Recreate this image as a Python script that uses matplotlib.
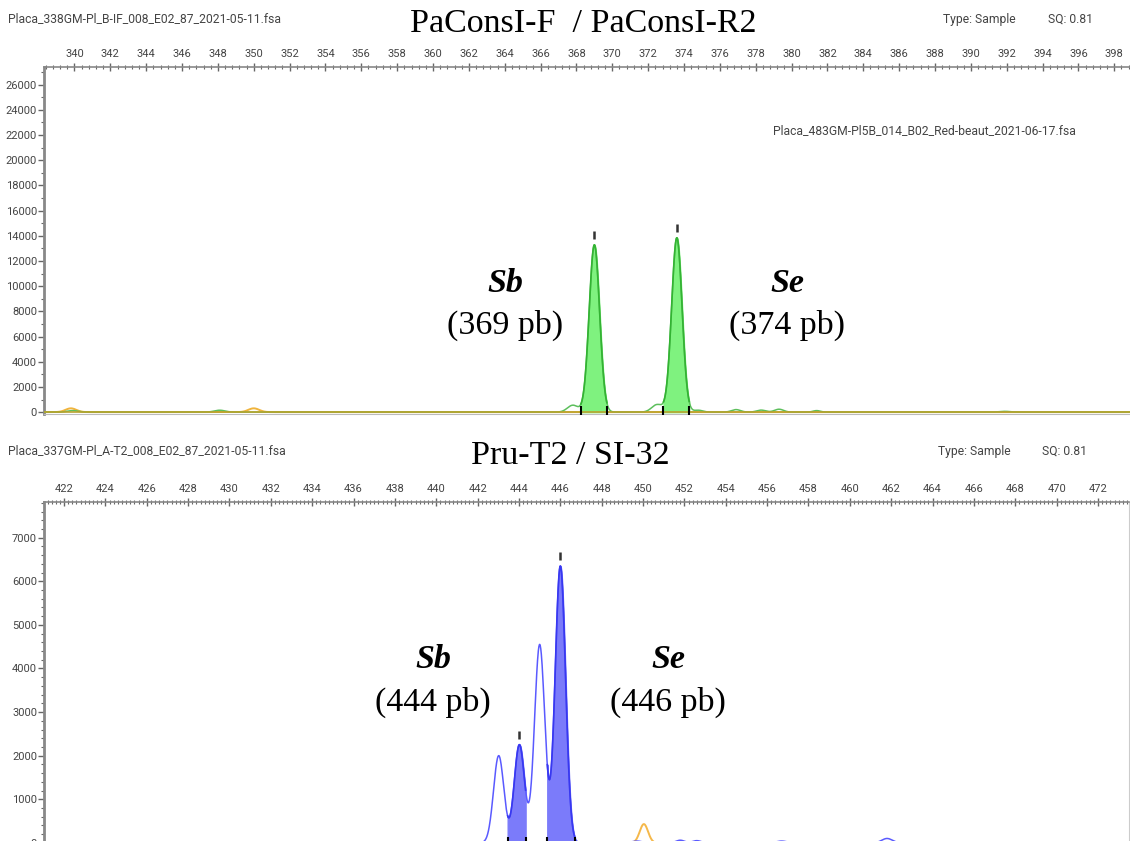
import numpy as np
import matplotlib
matplotlib.use("Agg")
import matplotlib.pyplot as plt
from matplotlib.ticker import MultipleLocator
from matplotlib.transforms import offset_copy

# --- data: peak position (pb), height (RFU), width (sigma) ---
top_green_pos = [339.9, 348.1, 367.8, 369.0, 372.5, 373.6, 374.8, 376.9, 378.3, 379.3, 381.4, 391.9]
top_green_h = [120, 150, 550, 13280, 600, 13840, 150, 200, 160, 230, 120, 60]
top_green_w = [0.3, 0.3, 0.3, 0.29, 0.3, 0.29, 0.25, 0.25, 0.25, 0.25, 0.2, 0.3]
top_orange_pos = [339.8, 350.0]
top_orange_h = [300, 300]
top_fill = [(368.25, 369.7), (372.85, 374.3)]
top_called = [369.0, 373.6]

bot_blue_pos = [443.02, 444.02, 445.0, 446.0, 449.7, 451.8, 452.6, 456.7, 461.8]
bot_blue_h = [2000, 2250, 4550, 6350, 40, 60, 50, 40, 100]
bot_blue_w = [0.25, 0.25, 0.25, 0.25, 0.25, 0.2, 0.2, 0.25, 0.25]
bot_orange_pos = [450.04]
bot_orange_h = [430]
bot_fill = [(443.45, 444.33), (445.36, 446.7)]
bot_called = [444.02, 446.0]


def trace(x, pos, h, w):
    y = np.zeros_like(x)
    for p, a, s in zip(pos, h, w):
        y += a * np.exp(-0.5 * ((x - p) / s) ** 2)
    return y


W, H = 1130, 841
fig = plt.figure(figsize=(W / 100, H / 100), dpi=100)


def px(x, y):
    return x / W, 1 - y / H


def style(ax, xmaj, xmin, ymaj, ymin):
    ax.xaxis.tick_top()
    ax.xaxis.set_major_locator(MultipleLocator(xmaj))
    ax.xaxis.set_minor_locator(MultipleLocator(xmin))
    ax.yaxis.set_major_locator(MultipleLocator(ymaj))
    ax.yaxis.set_minor_locator(MultipleLocator(ymin))
    ax.tick_params(axis="x", which="major", direction="inout", length=6, width=1,
                   color="#666", labelcolor="#444", labelsize=8, pad=3)
    ax.tick_params(axis="x", which="minor", direction="inout", length=3, width=0.8, color="#666")
    ax.tick_params(axis="y", which="major", direction="out", length=4, width=1,
                   color="#666", labelcolor="#444", labelsize=8, pad=1)
    ax.tick_params(axis="y", which="minor", direction="out", length=2, width=0.8, color="#666")
    for lab in ax.get_xticklabels() + ax.get_yticklabels():
        lab.set_family("Roboto")
    ax.spines["left"].set_color("#888")
    ax.spines["left"].set_linewidth(2)
    ax.spines["top"].set_color("#888")
    ax.spines["top"].set_linewidth(1.2)
    ax.spines["bottom"].set_color("#bbb")
    ax.spines["right"].set_color("#ccc")


def draw(ax, x, y, color_line, color_fill, color_edge, fills, called):
    ax.plot(x, y, color=color_line, lw=1.1, zorder=3)
    for a, b in fills:
        m = (x >= a) & (x <= b)
        ax.fill_between(x[m], 0, y[m], color=color_fill, zorder=2)
        ax.plot(x[m], y[m], color=color_edge, lw=1.2, zorder=4)
        ax.plot([a, b], [0, 0], ls="none", marker="|", ms=9, mew=1.5, color="black", zorder=6)
    tr = offset_copy(ax.transData, fig=fig, y=10, units="dots")
    for c in called:
        yc = np.interp(c, x, y)
        ax.plot([c], [yc], ls="none", marker="|", ms=6, mew=1.8, color="#333", transform=tr, zorder=6)


# ---------------- top panel ----------------
ax1 = fig.add_axes([44 / W, 1 - 414 / H, 1090 / W, 347 / H])
x1 = np.linspace(338.3, 399.1, 4000)
g1 = trace(x1, top_green_pos, top_green_h, top_green_w)
o1 = trace(x1, top_orange_pos, top_orange_h, [0.3] * len(top_orange_pos))
ax1.plot(x1, o1, color="#f0b43c", lw=1.4, zorder=2)
draw(ax1, x1, g1, "#5cbf5c", "#7ff27f", "#33b333", top_fill, top_called)
ax1.axhline(0, color="#b9a22e", lw=1.2, zorder=3)
ax1.set_xlim(338.3, 399.1)
ax1.set_ylim(-150, 27400)
style(ax1, 2, 0.4, 2000, 1000)
ax1.spines["right"].set_visible(False)

# ---------------- bottom panel ----------------
ax2 = fig.add_axes([44 / W, 1 - 845 / H, 1085 / W, 343 / H])
x2 = np.linspace(421.03, 473.5, 4000)
b2 = trace(x2, bot_blue_pos, bot_blue_h, bot_blue_w)
o2 = trace(x2, bot_orange_pos, bot_orange_h, [0.2])
ax2.plot(x2, o2, color="#f5b84a", lw=1.4, zorder=2)
draw(ax2, x2, b2, "#5a5aff", "#7b7bfa", "#3838f0", bot_fill, bot_called)
ax2.set_xlim(421.03, 473.5)
ax2.set_ylim(-50, 7820)
style(ax2, 2, 0.2, 1000, 200)

# ---------------- texts ----------------
small = dict(family="Roboto", fontsize=8.7, color="#444", va="center")
serif = dict(family="Liberation Serif", fontsize=24.5, color="black", ha="center", va="center")

fig.text(*px(8, 19), "Placa_338GM-Pl_B-IF_008_E02_87_2021-05-11.fsa", **small)
fig.text(*px(943, 19), "Type: Sample", **small)
fig.text(*px(1048, 19), "SQ: 0.81", **small)
fig.text(*px(583, 24), "PaConsI-F  / PaConsI-R2", **serif)
fig.text(*px(773, 131), "Placa_483GM-Pl5B_014_B02_Red-beaut_2021-06-17.fsa", **small)

fig.text(*px(8, 451), "Placa_337GM-Pl_A-T2_008_E02_87_2021-05-11.fsa", **small)
fig.text(*px(938, 451), "Type: Sample", **small)
fig.text(*px(1042, 451), "SQ: 0.81", **small)
fig.text(*px(570, 456), "Pru-T2 / SI-32", **serif)

labels = [
    (505, 283, 325, "Sb", "(369 pb)"),
    (787, 283, 325, "Se", "(374 pb)"),
    (433, 660, 702, "Sb", "(444 pb)"),
    (668, 660, 702, "Se", "(446 pb)"),
]
for lx, ly1, ly2, name, size in labels:
    fig.text(*px(lx, ly1), name, style="italic", weight="bold", **serif)
    fig.text(*px(lx, ly2), size, **serif)

fig.savefig("out.png", dpi=100)
